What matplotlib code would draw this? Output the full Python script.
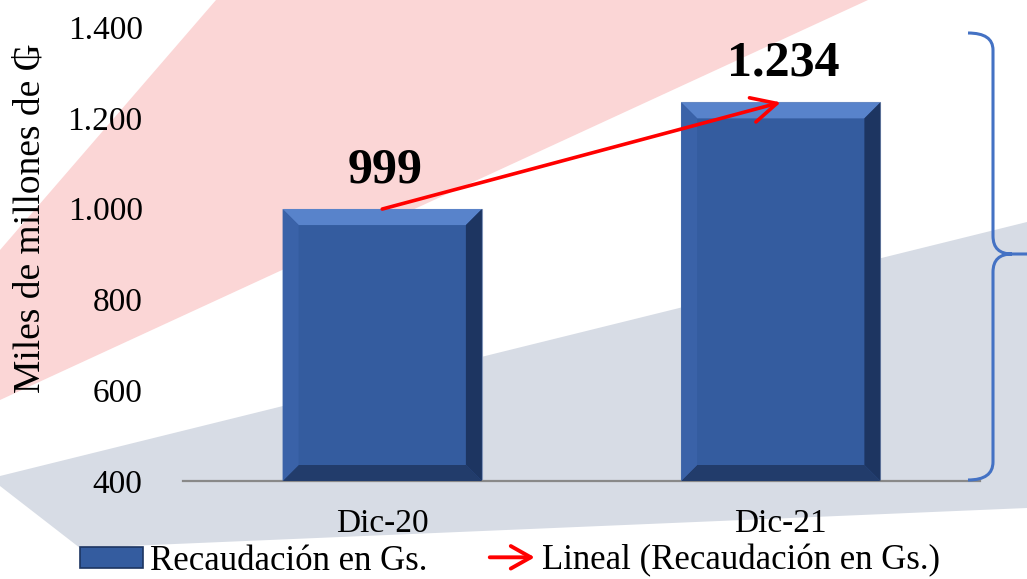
import numpy as np
import matplotlib.pyplot as plt
from matplotlib.patches import Polygon, PathPatch, FancyArrowPatch, Patch
from matplotlib.path import Path
from matplotlib.legend_handler import HandlerBase

# Data
categories = ['Dic-20', 'Dic-21']
recaudacion = [999, 1234]
value_labels = ['999', '1.234']
y_ticks = [400, 600, 800, 1000, 1200, 1400]
y_tick_labels = ['400', '600', '800', '1.000', '1.200', '1.400']
y_min, y_max = 400, 1400
series_label = 'Recaudación en Gs.'
trend_label = 'Lineal (Recaudación en Gs.)'

plt.rcParams['font.family'] = ['Liberation Serif', 'DejaVu Serif']

W, H = 1027, 579
fig = plt.figure(figsize=(W / 100, H / 100), dpi=100)
fig.patch.set_facecolor('white')


def px(pts):
    # pixel coords (top-left origin) -> figure fraction
    return [(x / W, 1 - y / H) for x, y in pts]


# Background bands (decoration)
fig.patches.append(Polygon(px([(0, 250), (216, 0), (868, 0), (0, 400)]), closed=True,
                           transform=fig.transFigure, facecolor='#fbd6d6',
                           edgecolor='none', zorder=-2))
fig.patches.append(Polygon(px([(0, 476), (1027, 222), (1027, 508), (80, 548), (0, 486)]),
                           closed=True, transform=fig.transFigure, facecolor='#d7dce5',
                           edgecolor='none', zorder=-2))

ax = fig.add_axes([183 / W, 1 - 481 / H, (980 - 183) / W, (481 - 27) / H])
ax.set_facecolor('none')
ax.set_zorder(1)

x = np.arange(len(categories))
vals = np.array(recaudacion)
bars = ax.bar(x, vals - y_min, bottom=y_min, width=0.5, color='#345c9f',
              edgecolor='#8194b8', linewidth=0.8, zorder=2, label=series_label)
ax.set_xlim(-0.5, len(categories) - 0.5)
ax.set_ylim(y_min, y_max)

# Bevel on the bars
p0 = ax.transData.transform((0, 0))
p1 = ax.transData.transform((1, 1))
bevel = 16
dx = bevel / (p1[0] - p0[0])
dy = bevel / (p1[1] - p0[1])
for r in bars:
    x0, y0 = r.get_x(), r.get_y()
    x1, y1 = x0 + r.get_width(), y0 + r.get_height()
    faces = [
        ([(x0, y1), (x1, y1), (x1 - dx, y1 - dy), (x0 + dx, y1 - dy)], '#5883cb'),
        ([(x0, y0), (x1, y0), (x1 - dx, y0 + dy), (x0 + dx, y0 + dy)], '#223c6b'),
        ([(x0, y0), (x0, y1), (x0 + dx, y1 - dy), (x0 + dx, y0 + dy)], '#3a62a8'),
        ([(x1, y0), (x1, y1), (x1 - dx, y1 - dy), (x1 - dx, y0 + dy)], '#1d3561'),
    ]
    for pts, c in faces:
        ax.add_patch(Polygon(pts, closed=True, facecolor=c, edgecolor='none', zorder=3))

# Value labels
for xi, v, lbl in zip(x, vals, value_labels):
    ax.annotate(lbl, (xi, v), xytext=(2, 19), textcoords='offset points',
                ha='center', va='baseline', fontsize=36, fontweight='bold', zorder=5)

# Linear trend arrow
trend = ax.annotate('', xy=(x[1], vals[1]), xytext=(x[0], vals[0]),
                    arrowprops=dict(arrowstyle='->, head_length=0.9, head_width=0.45',
                                    color='red', lw=2.6, mutation_scale=20,
                                    shrinkA=0, shrinkB=0), zorder=6)

# Axes styling
for s in ['left', 'right', 'top']:
    ax.spines[s].set_visible(False)
ax.spines['bottom'].set_color('#898989')
ax.spines['bottom'].set_linewidth(1.6)
ax.set_yticks(y_ticks, y_tick_labels)
ax.set_xticks(x, categories)
ax.tick_params(axis='y', length=0, pad=29, labelsize=24)
ax.tick_params(axis='x', length=0, pad=20, labelsize=24)

fig.text(30 / W, 1 - 218 / H, 'Miles de millones de ₲', rotation=90,
         va='center', ha='center', fontsize=27)

# Right-hand brace
verts = px([(968, 33), (993, 33), (993, 50), (993, 236), (993, 254), (1012, 254),
            (1027, 254), (1012, 254), (993, 254), (993, 272), (993, 462),
            (993, 480), (968, 480)])
codes = [Path.MOVETO, Path.CURVE3, Path.CURVE3, Path.LINETO, Path.CURVE3, Path.CURVE3,
         Path.LINETO, Path.MOVETO, Path.CURVE3, Path.CURVE3, Path.LINETO,
         Path.CURVE3, Path.CURVE3]
fig.patches.append(PathPatch(Path(verts, codes), transform=fig.transFigure,
                             facecolor='none', edgecolor='#4472c4', lw=2.2, zorder=4))


class HandlerArrow(HandlerBase):
    def create_artists(self, legend, orig_handle, xdescent, ydescent,
                       width, height, fontsize, trans):
        y = height / 2 - ydescent
        arr = FancyArrowPatch((-xdescent + 0.28 * width, y), (-xdescent + width, y),
                              arrowstyle='->, head_length=0.8, head_width=0.45',
                              mutation_scale=18, color='red', lw=2.8,
                              shrinkA=0, shrinkB=0, transform=trans)
        return [arr]


bar_handle = Patch(facecolor='#345c9f', edgecolor='#1d3561', linewidth=1.2)
fig.legend([bar_handle, trend.arrow_patch], [series_label, trend_label],
           handler_map={FancyArrowPatch: HandlerArrow()},
           loc='center', bbox_to_anchor=(510 / W, 1 - 561 / H), ncol=2,
           frameon=False, fontsize=25, handlelength=1.8, handleheight=0.55,
           handletextpad=0.2, columnspacing=1.3, borderpad=0)

fig.savefig('out.png', dpi=100)
